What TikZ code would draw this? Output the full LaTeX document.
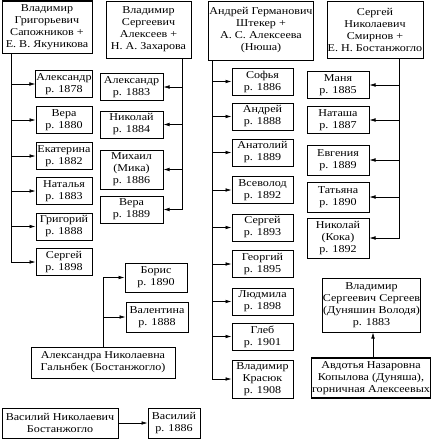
\documentclass[tikz,border=0pt]{standalone}
\usepackage{fontspec}
\setmainfont{Liberation Serif}[FakeStretch=1.15]
\usetikzlibrary{arrows.meta}

\begin{document}
\begin{tikzpicture}[x=1pt,y=1pt,font=\fontsize{10.5}{12}\selectfont,
    box/.style={draw,line width=1pt,align=center,inner sep=0.5pt},
    kid/.style={box,minimum height=27pt},
    arr/.style={-{Latex[length=6pt,width=3.6pt]},line width=0.6pt}]
    \useasboundingbox (0,0) rectangle (432,-439);
    % parents
    \node[box,minimum width=90,minimum height=52]  (vgs) at (47,-27)    {Владимир\\Григорьевич\\Сапожников +\\Е. В. Якуникова};
    \node[box,minimum width=85,minimum height=57]  (vsa) at (148.5,-29.5) {Владимир\\Сергеевич\\Алексеев +\\Н. А. Захарова};
    \node[box,minimum width=102,minimum height=59] (ags) at (261,-30.5)  {Андрей Германович\\Штекер +\\А. С. Алексеева\\(Нюша)};
    \node[box,minimum width=96,minimum height=57]  (sns) at (375,-29.5)  {Сергей\\Николаевич\\Смирнов +\\Е. Н. Бостанжогло};
    % children of Sapozhnikov
    \node[kid,minimum width=56] (s1) at (64,-84)    {Александр\\р. 1878};
    \node[kid,minimum width=56] (s2) at (64,-120)   {Вера\\р. 1880};
    \node[kid,minimum width=56] (s3) at (64,-156)   {Екатерина\\р. 1882};
    \node[kid,minimum width=56] (s4) at (64,-191)   {Наталья\\р. 1883};
    \node[kid,minimum width=56] (s5) at (64,-226.5) {Григорий\\р. 1888};
    \node[kid,minimum width=56] (s6) at (64,-262)   {Сергей\\р. 1898};
    % children of Alekseev
    \node[kid,minimum width=63] (a1) at (131.5,-87)   {Александр\\р. 1883};
    \node[kid,minimum width=63] (a2) at (131.5,-124.5) {Николай\\р. 1884};
    \node[kid,minimum width=63,minimum height=39] (a3) at (131.5,-169.5) {Михаил\\(Мика)\\р. 1886};
    \node[kid,minimum width=63] (a4) at (131.5,-209.5) {Вера\\р. 1889};
    % children of Shteker
    \node[kid,minimum width=61] (h1) at (262.5,-81.5)  {Софья\\р. 1886};
    \node[kid,minimum width=61] (h2) at (262.5,-116.5) {Андрей\\р. 1888};
    \node[kid,minimum width=61] (h3) at (262.5,-152.5) {Анатолий\\р. 1889};
    \node[kid,minimum width=61] (h4) at (262.5,-190)   {Всеволод\\р. 1892};
    \node[kid,minimum width=61] (h5) at (262.5,-227.5) {Сергей\\р. 1893};
    \node[kid,minimum width=61] (h6) at (262.5,-264)   {Георгий\\р. 1895};
    \node[kid,minimum width=61] (h7) at (262.5,-301.5) {Людмила\\р. 1898};
    \node[kid,minimum width=61] (h8) at (262.5,-336.5) {Глеб\\р. 1901};
    \node[kid,minimum width=61,minimum height=38] (h9) at (262.5,-379) {Владимир\\Красюк\\р. 1908};
    % children of Smirnov
    \node[kid,minimum width=62] (m1) at (338,-85)  {Маня\\р. 1885};
    \node[kid,minimum width=62] (m2) at (338,-120) {Наташа\\р. 1887};
    \node[kid,minimum width=62,minimum height=30] (m3) at (338,-160) {Евгения\\р. 1889};
    \node[kid,minimum width=62,minimum height=30] (m4) at (338,-197) {Татьяна\\р. 1890};
    \node[kid,minimum width=62,minimum height=40] (m5) at (338,-238) {Николай\\(Кока)\\р. 1892};
    % Galnbek
    \node[kid,minimum width=62,minimum height=29] (bor) at (156,-277.5)  {Борис\\р. 1890};
    \node[kid,minimum width=62,minimum height=30] (val) at (157,-317)    {Валентина\\р. 1888};
    \node[box,minimum width=144,minimum height=31] (agn) at (103,-362.5) {Александра Николаевна\\Гальнбек (Бостанжогло)};
    % Dunyasha
    \node[box,minimum width=97,minimum height=54] (vss) at (371.5,-305) {Владимир\\Сергеевич Сергеев\\(Дуняшин Володя)\\р. 1883};
    \node[box,line width=1.5pt,minimum width=118,minimum height=40] (akd) at (371,-378) {Авдотья Назаровна\\Копылова (Дуняша),\\горничная Алексеевых};
    % Bostanzhoglo
    \node[box,minimum width=116,minimum height=30] (vnb) at (60,-423)  {Василий Николаевич\\Бостанжогло};
    \node[box,minimum width=52,minimum height=30]  (vas) at (174,-423) {Василий\\р. 1886};

    \draw[arr] ([xshift=10pt]vgs.south west) |- (s1.west); \draw[arr] ([xshift=10pt]vgs.south west) |- (s2.west);
    \draw[arr] ([xshift=10pt]vgs.south west) |- (s3.west); \draw[arr] ([xshift=10pt]vgs.south west) |- (s4.west);
    \draw[arr] ([xshift=10pt]vgs.south west) |- (s5.west); \draw[arr] ([xshift=10pt]vgs.south west) |- (s6.west);
    \draw[arr] ([xshift=-9pt]vsa.south east) |- (a1.east); \draw[arr] ([xshift=-9pt]vsa.south east) |- (a2.east);
    \draw[arr] ([xshift=-9pt]vsa.south east) |- (a3.east); \draw[arr] ([xshift=-9pt]vsa.south east) |- (a4.east);
    \draw[arr] ([xshift=4pt]ags.south west) |- (h1.west); \draw[arr] ([xshift=4pt]ags.south west) |- (h2.west);
    \draw[arr] ([xshift=4pt]ags.south west) |- (h3.west); \draw[arr] ([xshift=4pt]ags.south west) |- (h4.west);
    \draw[arr] ([xshift=4pt]ags.south west) |- (h5.west); \draw[arr] ([xshift=4pt]ags.south west) |- (h6.west);
    \draw[arr] ([xshift=4pt]ags.south west) |- (h7.west); \draw[arr] ([xshift=4pt]ags.south west) |- (h8.west);
    \draw[arr] ([xshift=4pt]ags.south west) |- (h9.west);
    \draw[arr] ([xshift=-24pt]sns.south east) |- (m1.east); \draw[arr] ([xshift=-24pt]sns.south east) |- (m2.east);
    \draw[arr] ([xshift=-24pt]sns.south east) |- (m3.east); \draw[arr] ([xshift=-24pt]sns.south east) |- (m4.east);
    \draw[arr] ([xshift=-24pt]sns.south east) |- (m5.east);
    \draw[arr] (agn.north) |- (bor.west); \draw[arr] (agn.north) |- (val.west);
    \draw[arr] ([xshift=2pt]akd.north) -- ([xshift=2pt]akd.north |- vss.south);
    \draw[arr] (vnb.east) -- (vas.west);
  \end{tikzpicture}
\end{document}
